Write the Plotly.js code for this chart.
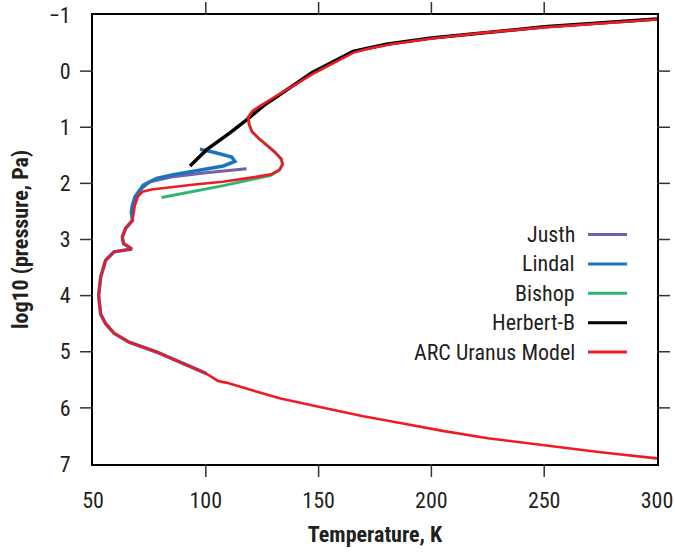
<!DOCTYPE html>
<html>
<head>
<meta charset="utf-8">
<script src="https://cdn.plot.ly/plotly-3.0.1.min.js"></script>
<style>html,body{margin:0;padding:0;background:#fff;}#chart{width:675px;height:552px;}</style>
</head>
<body>
<div id="chart"></div>
<script>
// ---- data ----
var seriesNames = ["Justh", "Lindal", "Bishop", "Herbert-B", "ARC Uranus Model"];
var seriesColors = ["#7560ad", "#1c75bc", "#2bb673", "#000000", "#ed1c24"];

var justhT = [68.0, 69.4, 70.8, 75.3, 85.6, 100.0, 118.1];
var justhP = [2.42, 2.29, 2.12, 1.97, 1.88, 1.81, 1.74];

var lindalT = [100.4, 98.6, 89.7, 77.9, 66.0, 59.3, 55.6, 53.4, 52.5, 53.4, 55.6, 59.3, 67.2, 63.5, 63.0, 64.5, 67.5, 67.0, 67.4, 68.6, 72.3, 78.2, 85.0, 93.0, 101.0, 107.8, 112.9, 111.5, 104.8, 97.4];
var lindalP = [5.39, 5.36, 5.20, 5.00, 4.83, 4.67, 4.50, 4.33, 4.00, 3.67, 3.37, 3.22, 3.17, 3.07, 2.95, 2.80, 2.66, 2.52, 2.40, 2.24, 2.03, 1.91, 1.85, 1.79, 1.74, 1.69, 1.61, 1.53, 1.46, 1.39];

var bishopT = [121.0, 118.8, 119.2, 120.5, 123.5, 127.0, 130.5, 133.5, 134.0, 132.7, 128.5, 107.8, 80.4];
var bishopP = [0.70, 0.82, 0.95, 1.08, 1.20, 1.32, 1.44, 1.57, 1.66, 1.76, 1.86, 2.04, 2.25];

var herbertT = [93.0, 100.4, 110.7, 118.1, 125.5, 147.0, 165.3, 180.0, 200.0, 250.0, 300.0];
var herbertP = [1.69, 1.40, 1.10, 0.87, 0.62, 0.03, -0.35, -0.48, -0.59, -0.79, -0.93];

var arcT = [300, 275, 250, 225, 200, 182, 172, 165.5, 147.5, 126.8, 121.0, 118.8, 119.2, 120.5, 123.5, 127.0, 130.5, 133.5, 134.0, 132.7, 129.0, 123.0, 107.5, 95.0, 85.3, 76.0, 71.9, 69.5, 68.5, 67.8, 67.5, 64.5, 63.0, 63.5, 67.2, 59.3, 55.6, 53.4, 52.5, 53.4, 55.6, 59.3, 66.0, 77.9, 89.7, 98.6, 101.5, 105.4, 109.0, 132.7, 150.0, 169.8, 185.0, 199.5, 205.0, 225.0, 250.0, 275.0, 300.0];
var arcP = [-0.92, -0.85, -0.78, -0.69, -0.58, -0.48, -0.40, -0.33, 0.05, 0.55, 0.70, 0.82, 0.95, 1.08, 1.20, 1.32, 1.44, 1.57, 1.66, 1.76, 1.84, 1.88, 1.97, 2.02, 2.06, 2.11, 2.15, 2.25, 2.40, 2.55, 2.66, 2.80, 2.95, 3.07, 3.17, 3.22, 3.37, 3.67, 4.00, 4.33, 4.50, 4.67, 4.83, 5.00, 5.20, 5.36, 5.42, 5.52, 5.55, 5.83, 5.98, 6.15, 6.26, 6.37, 6.41, 6.54, 6.67, 6.79, 6.90];

var xTickVals = [50, 100, 150, 200, 250, 300];
var yTickVals = [-1, 0, 1, 2, 3, 4, 5, 6, 7];
var xTitle = "Temperature, K";
var yTitle = "log10 (pressure, Pa)";

// ---- geometry ----
var FONT = "'Roboto Condensed', 'Liberation Sans Narrow', Roboto, sans-serif";
var TXT = "#231f20";
var W = 675, H = 552;
var PL = 93, PR = 657, PT = 15, PB = 464;     // main plot frame (px)
var TL = 13, TICKC = "#333", TICKW = 1.5;     // tick length / style
var OL = PL - TL, OR = PR + TL, OT = PT - TL, OB = PB + TL;   // outer box incl. ticks
var OW = OR - OL, OH = OB - OT;
var xMin = xTickVals[0], xMax = xTickVals[xTickVals.length - 1];
var yMin = yTickVals[0], yMax = yTickVals[yTickVals.length - 1];
var dx = (xMax - xMin) / (PR - PL), dy = (yMax - yMin) / (PB - PT);  // data units per px
function px2paperX(px) { return (px - OL) / OW; }
function px2paperY(py) { return (OB - py) / OH; }

var xs = [justhT, lindalT, bishopT, herbertT, arcT];
var ys = [justhP, lindalP, bishopP, herbertP, arcP];
var widths = [3, 3.5, 3, 3.5, 2.6];

var traces = seriesNames.map(function (n, i) {
  return {
    type: "scatter", mode: "lines", name: n,
    x: xs[i], y: ys[i],
    line: {color: seriesColors[i], width: widths[i]},
    showlegend: false, hoverinfo: "skip"
  };
});

// tick marks (inner values only, all four sides) drawn on an outer helper subplot
var tx = [], ty = [];
var xInner = xTickVals.slice(1, -1), yInner = yTickVals.slice(1, -1);
xInner.forEach(function (v) {
  tx.push(v, v, null, v, v, null);
  ty.push(yMax, yMax + TL * dy, null, yMin, yMin - TL * dy, null);
});
yInner.forEach(function (v) {
  tx.push(xMin, xMin - TL * dx, null, xMax, xMax + TL * dx, null);
  ty.push(v, v, null, v, v, null);
});
traces.push({type: "scatter", mode: "lines", x: tx, y: ty, xaxis: "x2", yaxis: "y2",
  line: {color: TICKC, width: TICKW}, showlegend: false, hoverinfo: "skip", cliponaxis: false});

var shapes = [];
var annotations = [];

// legend: names right-aligned with the line sample to their right
var legY0 = 234.5, legStep = 29.4, legTextRight = 577, legLine0 = 588, legLine1 = 627;
seriesNames.forEach(function (n, i) {
  var yy = px2paperY(legY0 + i * legStep);
  annotations.push({
    xref: "paper", yref: "paper", x: px2paperX(legTextRight), y: yy, text: n, showarrow: false,
    xanchor: "right", yanchor: "middle", font: {family: FONT, size: 22, color: TXT}
  });
  shapes.push({
    type: "line", xref: "paper", yref: "paper", x0: px2paperX(legLine0), x1: px2paperX(legLine1), y0: yy, y1: yy,
    line: {color: seriesColors[i], width: 3}
  });
});

var layout = {
  width: W, height: H,
  margin: {l: OL, r: W - OR, t: OT, b: H - OB, pad: 0},
  paper_bgcolor: "#ffffff", plot_bgcolor: "rgba(0,0,0,0)",
  showlegend: false,
  font: {family: FONT, size: 22, color: TXT},
  xaxis: {
    domain: [px2paperX(PL), px2paperX(PR)], anchor: "y",
    range: [xMin, xMax], autorange: false,
    tickmode: "array", tickvals: xTickVals,
    ticks: "outside", ticklen: 16, tickcolor: "rgba(0,0,0,0)",
    showline: true, linecolor: "#000", linewidth: 2, mirror: true,
    showgrid: false, zeroline: false, ticklabeloverflow: "allow",
    tickfont: {family: FONT, size: 22, color: TXT},
    title: {text: "<b>" + xTitle + "</b>", font: {family: FONT, size: 22, color: TXT}, standoff: 14}
  },
  yaxis: {
    domain: [px2paperY(PB), px2paperY(PT)], anchor: "x",
    range: [yMax, yMin], autorange: false,
    tickmode: "array", tickvals: yTickVals,
    ticks: "outside", ticklen: 16, tickcolor: "rgba(0,0,0,0)",
    showline: true, linecolor: "#000", linewidth: 2, mirror: true,
    showgrid: false, zeroline: false, ticklabeloverflow: "allow",
    tickfont: {family: FONT, size: 22, color: TXT},
    title: {text: "<b>" + yTitle + "</b>", font: {family: FONT, size: 22, color: TXT}, standoff: 14}
  },
  xaxis2: {domain: [0, 1], anchor: "y2", range: [xMin - TL * dx, xMax + TL * dx], autorange: false, visible: false},
  yaxis2: {domain: [0, 1], anchor: "x2", range: [yMax + TL * dy, yMin - TL * dy], autorange: false, visible: false},
  annotations: annotations,
  shapes: shapes
};

Plotly.newPlot("chart", traces, layout, {staticPlot: true, displayModeBar: false});
</script>
</body>
</html>
